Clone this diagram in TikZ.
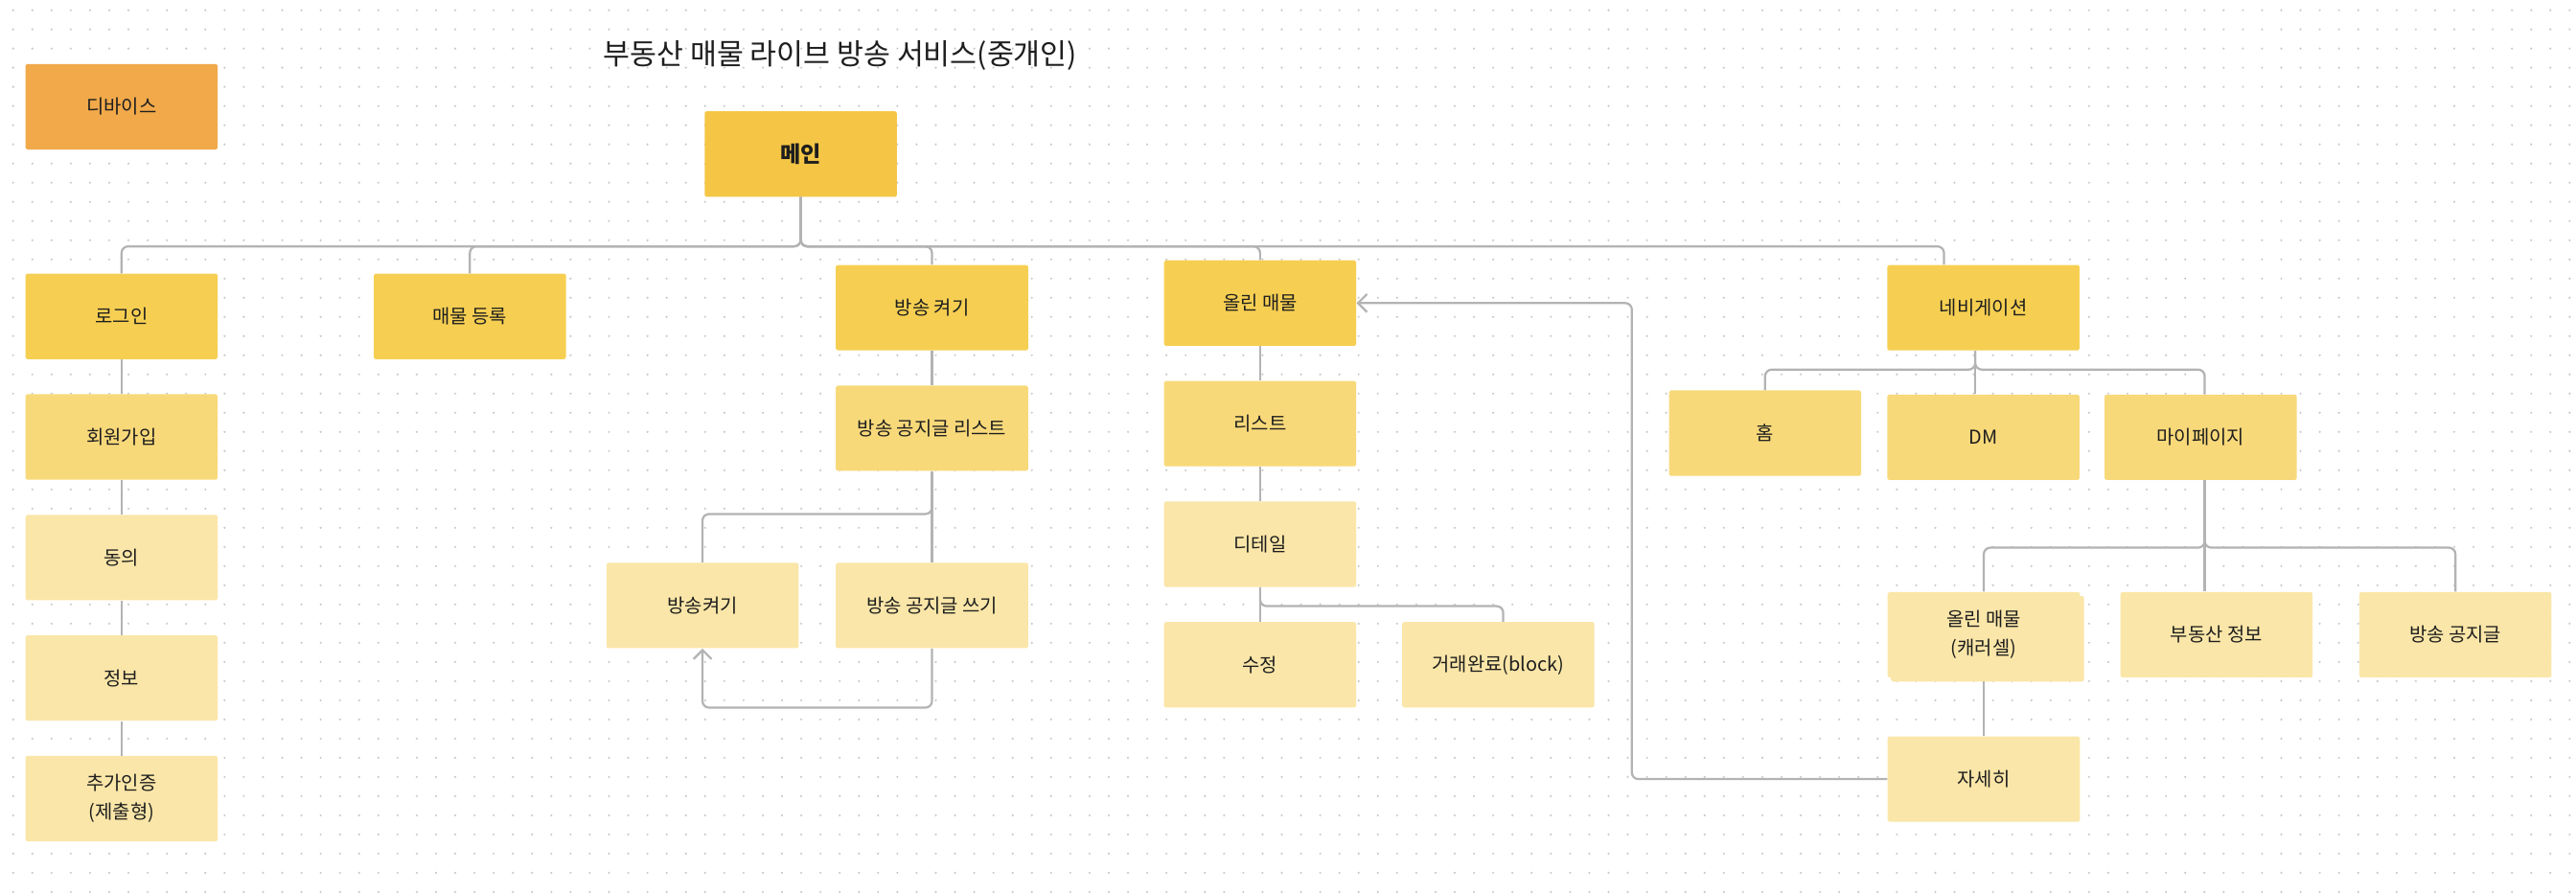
\documentclass[tikz,border=0pt]{standalone}
\usepackage{fontspec}
\setmainfont{Noto Sans CJK KR}
\usetikzlibrary{positioning, arrows.meta}
\definecolor{devorange}{HTML}{F1A94A}
\definecolor{mainyellow}{HTML}{F5C645}
\definecolor{menuyellow}{HTML}{F6CF52}
\definecolor{subyellow}{HTML}{F8D97A}
\definecolor{paleyellow}{HTML}{FAE6A8}
\definecolor{linegray}{HTML}{B3B3B3}
\definecolor{dotgray}{HTML}{CACACA}
\definecolor{inkblack}{HTML}{1E1E1E}

\begin{document}
\begin{tikzpicture}[
    x=1pt, y=-1pt,
    box/.style={minimum width=117pt, minimum height=52pt, inner sep=2pt, align=center, rounded corners=1pt, text=inkblack, font=\fontsize{11.6}{17.7}\selectfont},
    lvlone/.style={box, fill=menuyellow},
    lvltwo/.style={box, fill=subyellow},
    lvlthree/.style={box, fill=paleyellow},
    link/.style={draw=linegray, line width=1.3pt, rounded corners=4pt},
    arr/.style={link, -{Straight Barb[length=5.5pt, width=11pt]}},
    dotrow/.style={draw=dotgray, line width=1.4pt, line cap=round, dash pattern=on 0pt off 11.7pt},
    node distance=21pt
]

% Canvas
\useasboundingbox (0,0) rectangle (1568,544);
\fill[white] (0,0) rectangle (1568,544);
\foreach \r in {0,...,46}
    \draw[dotrow] (8,{6.2+\r*11.67}) -- (1568,{6.2+\r*11.67});

% Title
\node[text=inkblack, font=\fontsize{17.7}{21}\selectfont] (title) at (511.5,34) {부동산 매물 라이브 방송 서비스(중개인)};

% Legend
\node[box, fill=devorange] (dev) at (74,65) {디바이스};

% Main
\node[box, fill=mainyellow, font=\fontsize{13.5}{16}\selectfont\bfseries] (main) at (487.4,93.8) {메인};

% Menus
\node[lvlone] (login) at (74,192.6) {로그인};
\node[lvlone] (reg) at (286,192.6) {매물 등록};
\node[lvlone] (live) at (567.3,187.3) {방송 켜기};
\node[lvlone] (mine) at (767,184.5) {올린 매물};
\node[lvlone] (nav) at (1207.3,187.3) {네비게이션};

% Login column
\node[lvltwo, below=of login] (signup) {회원가입};
\node[lvlthree, below=of signup] (agree) {동의};
\node[lvlthree, below=of agree] (info) {정보};
\node[lvlthree, below=of info] (auth) {추가인증\\(제출형)};

% Live column
\node[lvltwo, below=of live] (nlist) {방송 공지글 리스트};
\node[lvlthree, below=55.5pt of nlist] (nwrite) {방송 공지글 쓰기};
\node[lvlthree, left=22.3pt of nwrite] (liveon) {방송켜기};

% Listing column
\node[lvltwo, below=of mine] (list) {리스트};
\node[lvlthree, below=of list] (detail) {디테일};
\node[lvlthree, below=of detail] (edit) {수정};
\node[lvlthree, right=27.6pt of edit] (done) {거래완료(block)};

% Navigation
\node[lvltwo, below=26.5pt of nav] (dm) {DM};
\node[lvltwo, left=15.5pt of dm, yshift=2.5pt] (home) {홈};
\node[lvltwo, right=14.8pt of dm] (mypage) {마이페이지};

% My page (stacked card)
\fill[paleyellow, rounded corners=1pt] (1151,362.9) rectangle (1268.5,414.9);
\node[lvlthree] (carousel) at (1207.5,386.4) {올린 매물\\(캐러셀)};
\node[lvlthree, right=24.3pt of carousel] (bizinfo) {부동산 정보};
\node[lvlthree, right=28pt of bizinfo] (notice) {방송 공지글};
\node[lvlthree, below=35.5pt of carousel] (more) {자세히};

% Links
\foreach \t in {login, reg, live, mine}
    \draw[link] (main.south) -- ++(0,30) -| (\t.north);
\draw[link] (main.south) -- ++(0,30) -| ([xshift=-24pt]nav.north);

\draw[link] (login) -- (signup) -- (agree) -- (info) -- (auth);

\draw[link] (live) -- (nlist) -- (nwrite);
\draw[link] (nlist.south) -- ++(0,26) -| (liveon.north);
\draw[arr] (nwrite.south) -- ++(0,36) -| (liveon.south);

\draw[link] (mine) -- (list) -- (detail) -- (edit);
\draw[link] (detail.south) -- ++(0,11.5) -| ([xshift=3pt]done.north);
\draw[arr] (more.west) -- ++(-155.5,0) |- (mine.east);

\draw[link] ([xshift=-5pt]nav.south) -- ++(0,11.5) -| (home.north);
\draw[link] ([xshift=-5pt]nav.south) -- ([xshift=-5pt]dm.north);
\draw[link] ([xshift=-5pt]nav.south) -- ++(0,11.5) -| ([xshift=2.5pt]mypage.north);

\draw[link] ([xshift=2.5pt]mypage.south) -- ++(0,41) -| (carousel.north);
\draw[link] ([xshift=2.5pt]mypage.south) -- ([xshift=2.5pt]mypage.south |- bizinfo.north);
\draw[link] ([xshift=2.5pt]mypage.south) -- ++(0,41) -| (notice.north);
\draw[link] (carousel.south |- 0,414.9) -- (more);

\end{tikzpicture}
\end{document}
